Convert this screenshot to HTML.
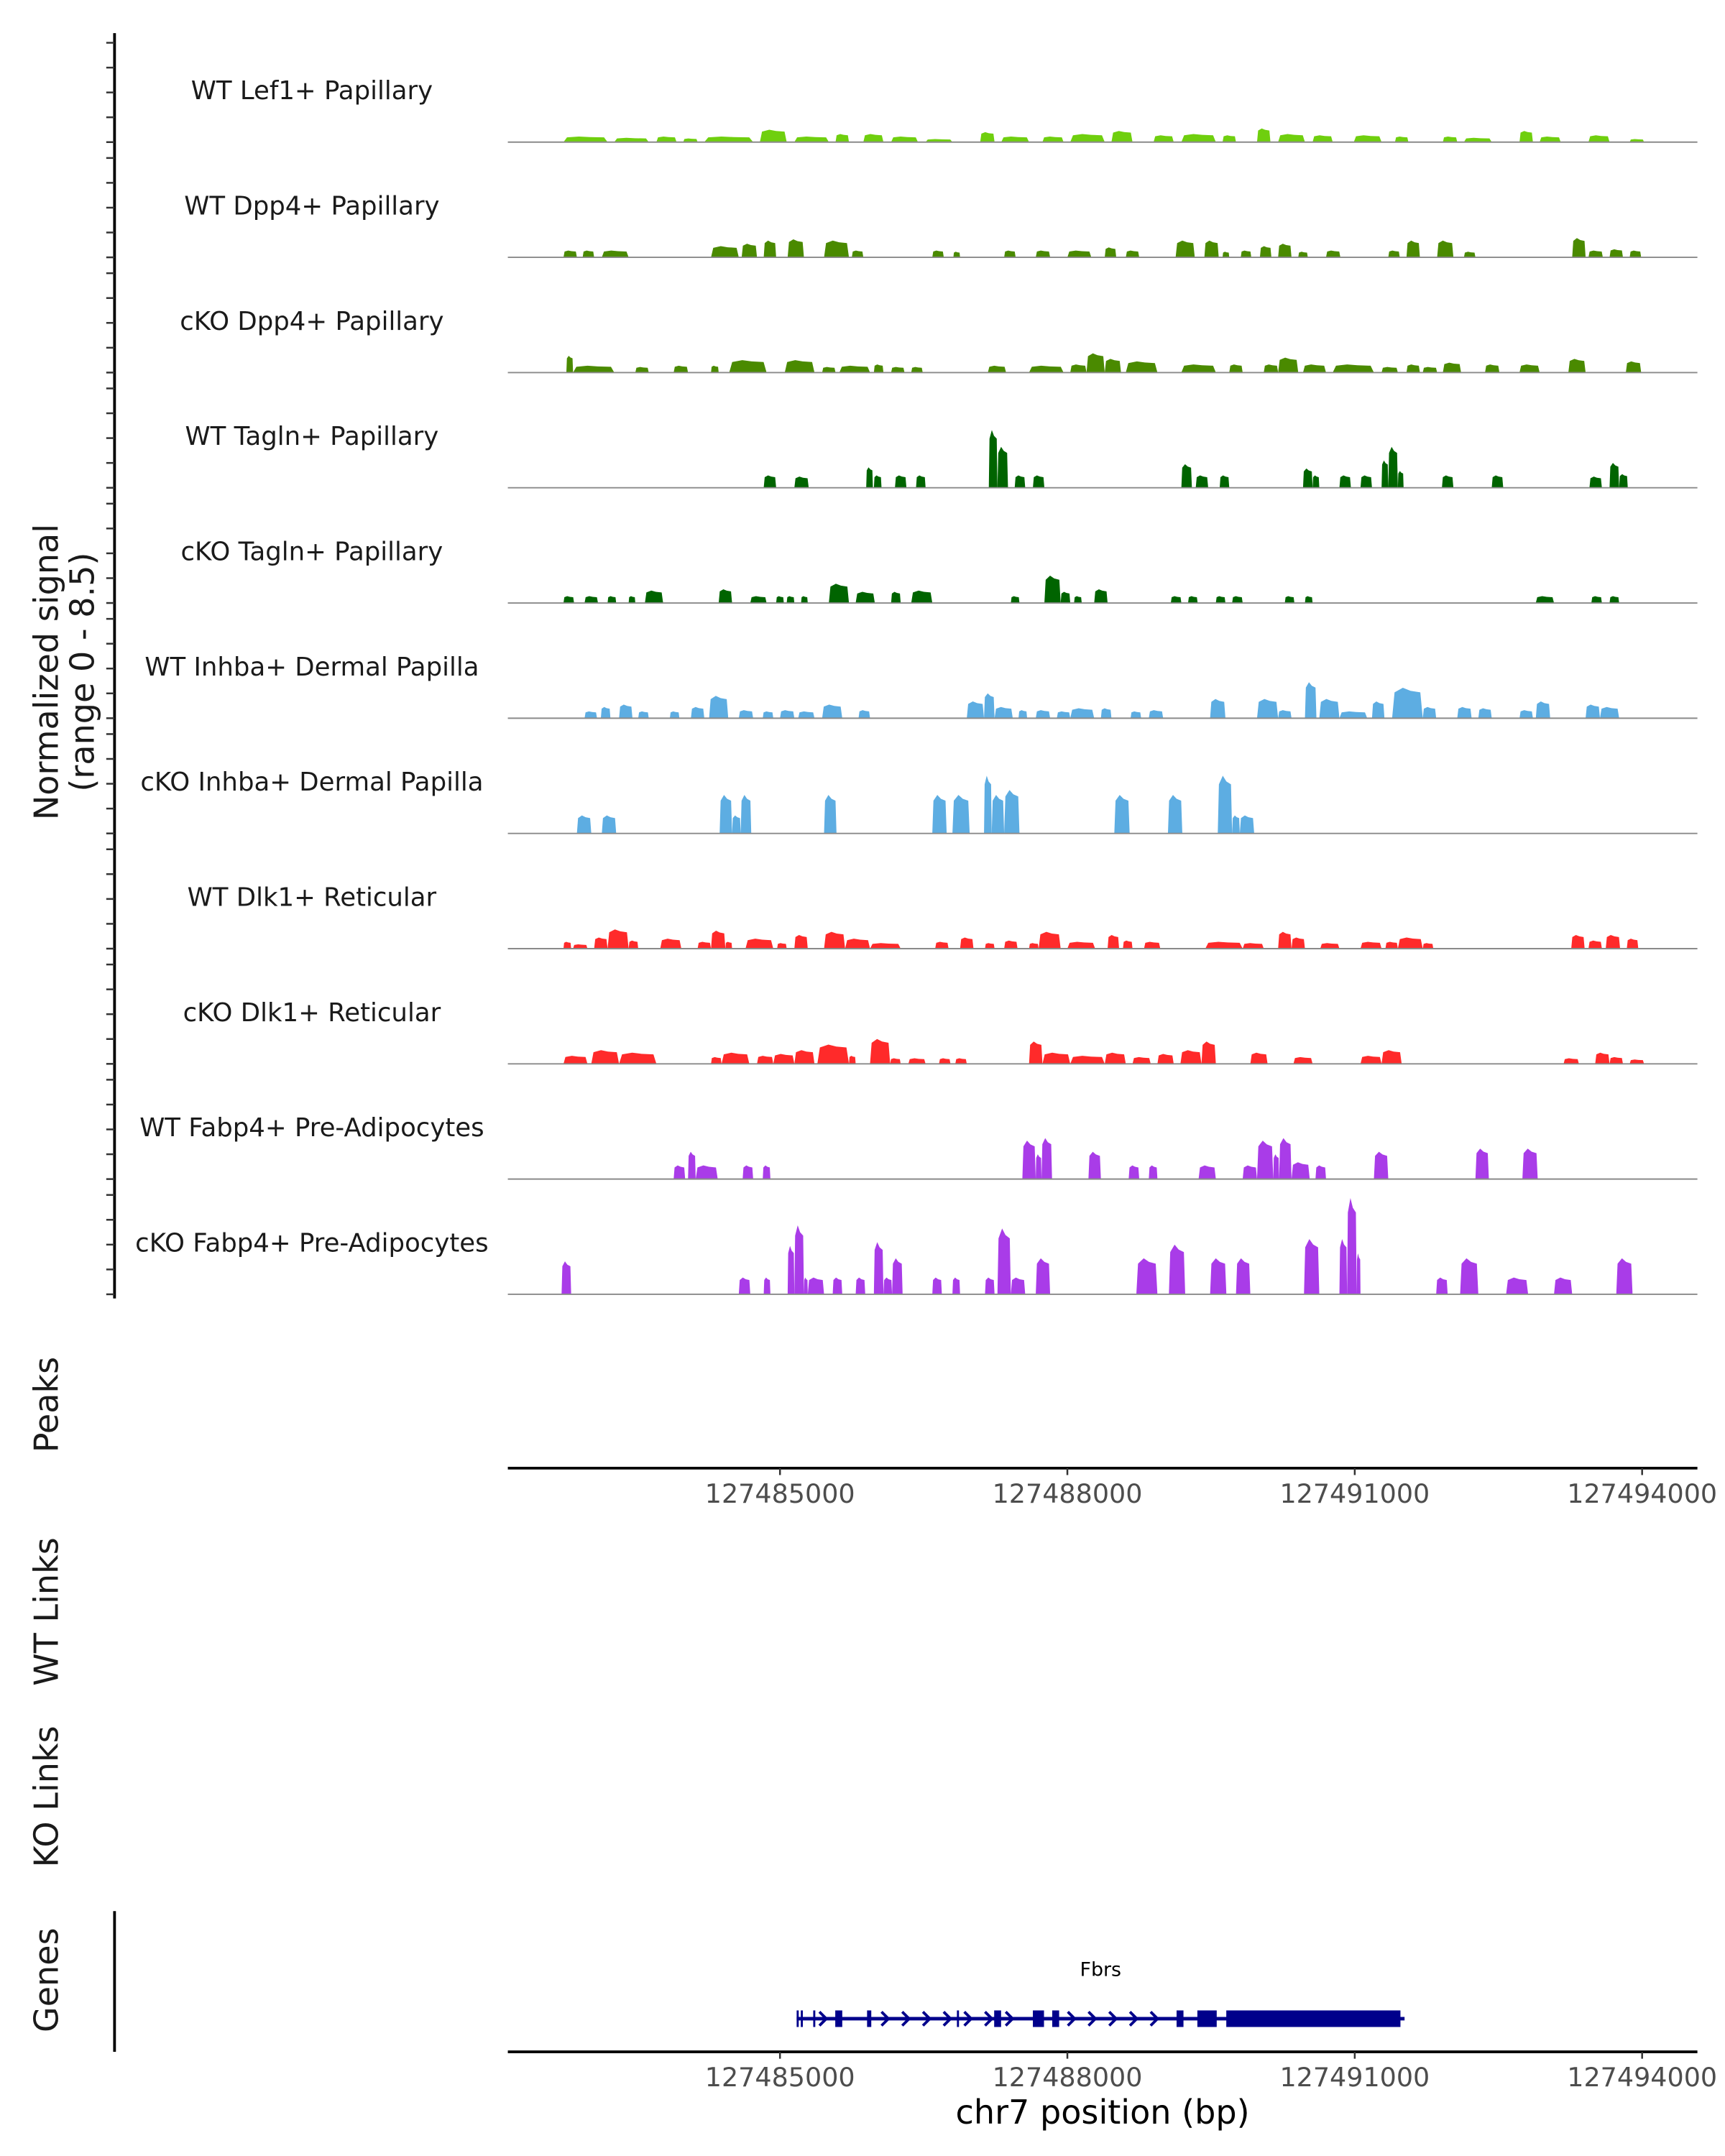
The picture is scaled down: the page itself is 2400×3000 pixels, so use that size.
<!DOCTYPE html>
<html><head><meta charset="utf-8"><style>
html,body{margin:0;padding:0;background:#fff}
svg{display:block;font-family:"DejaVu Sans","Liberation Sans",sans-serif}
</style></head><body>
<svg id="chart" xmlns="http://www.w3.org/2000/svg" width="2400" height="3000" viewBox="0 0 1250 1562.5">
<g id="tracks"></g>
<g id="axes"></g>
<g id="gene"></g>
</svg>
<script>
const ORIGIN = 127480000;
const trackNames = ["WT Lef1+ Papillary","WT Dpp4+ Papillary","cKO Dpp4+ Papillary","WT Tagln+ Papillary","cKO Tagln+ Papillary","WT Inhba+ Dermal Papilla","cKO Inhba+ Dermal Papilla","WT Dlk1+ Reticular","cKO Dlk1+ Reticular","WT Fabp4+ Pre-Adipocytes","cKO Fabp4+ Pre-Adipocytes"];
const trackColors = ["#6fcf0e","#4a8a00","#4a8a00","#006400","#006400","#5dade2","#5dade2","#ff2a2a","#ff2a2a","#a93ce8","#a93ce8"];
// peaks: [start kb offset, end kb offset, signal]
const lef1WT = [[2.74,3.20,0.45],[3.27,3.63,0.35],[3.71,3.92,0.45],[3.99,4.14,0.3],[4.21,4.72,0.45],[4.79,5.07,1.0],[5.15,5.51,0.45],[5.58,5.72,0.65],[5.87,6.08,0.65],[6.16,6.44,0.45],[6.52,6.80,0.25],[7.09,7.24,0.8],[7.31,7.60,0.45],[7.74,7.96,0.45],[8.03,8.39,0.65],[8.46,8.68,0.9],[8.90,9.11,0.55],[9.19,9.55,0.65],[9.62,9.76,0.55],[9.98,10.12,1.1],[10.20,10.48,0.65],[10.56,10.77,0.55],[10.99,11.28,0.55],[11.42,11.56,0.45],[11.92,12.07,0.45],[12.14,12.43,0.35],[12.72,12.86,0.9],[12.93,13.15,0.45],[13.44,13.66,0.55],[13.87,14.02,0.25]];
const dpp4WT = [[2.74,2.88,0.55],[2.94,3.06,0.55],[3.14,3.42,0.55],[4.28,4.57,0.9],[4.60,4.76,1.1],[4.83,4.96,1.35],[5.08,5.25,1.45],[5.46,5.72,1.35],[5.75,5.87,0.55],[6.59,6.71,0.55],[6.81,6.88,0.45],[7.34,7.46,0.55],[7.67,7.82,0.55],[8.00,8.25,0.55],[8.39,8.51,0.8],[8.61,8.75,0.55],[9.13,9.33,1.35],[9.43,9.58,1.35],[9.62,9.69,0.45],[9.81,9.92,0.55],[10.01,10.13,0.9],[10.20,10.34,1.1],[10.41,10.51,0.45],[10.70,10.85,0.55],[11.35,11.47,0.55],[11.54,11.68,1.35],[11.86,12.03,1.35],[12.14,12.26,0.45],[13.27,13.41,1.55],[13.44,13.59,0.55],[13.66,13.80,0.65],[13.87,13.99,0.55]];
const dpp4KO = [[2.77,2.84,1.35],[2.84,3.27,0.55],[3.49,3.63,0.45],[3.89,4.04,0.55],[4.28,4.36,0.55],[4.47,4.86,1.0],[5.05,5.36,1.0],[5.44,5.58,0.45],[5.62,5.94,0.55],[5.98,6.08,0.65],[6.16,6.30,0.45],[6.37,6.49,0.45],[7.17,7.36,0.55],[7.60,7.96,0.55],[8.03,8.20,0.65],[8.20,8.39,1.55],[8.39,8.56,1.1],[8.61,8.94,0.9],[9.19,9.55,0.65],[9.69,9.83,0.65],[10.05,10.20,0.65],[10.20,10.41,1.2],[10.46,10.70,0.65],[10.77,11.20,0.65],[11.28,11.45,0.45],[11.54,11.68,0.65],[11.71,11.86,0.45],[11.92,12.11,0.8],[12.36,12.51,0.65],[12.72,12.93,0.65],[13.23,13.41,1.1],[13.83,13.99,0.9]];
const taglnWT = [[4.83,4.96,1.0],[5.15,5.30,0.9],[5.90,5.97,1.65],[5.98,6.06,1.0],[6.20,6.32,1.0],[6.42,6.52,1.0],[7.18,7.27,4.65],[7.27,7.38,3.3],[7.45,7.56,1.0],[7.64,7.76,1.0],[9.19,9.30,1.9],[9.34,9.47,1.0],[9.59,9.69,1.0],[10.46,10.56,1.55],[10.56,10.63,1.0],[10.84,10.96,1.0],[11.06,11.18,1.0],[11.28,11.35,2.2],[11.35,11.45,3.3],[11.45,11.51,1.35],[11.91,12.03,1.0],[12.43,12.55,1.0],[13.45,13.58,0.9],[13.66,13.76,2.0],[13.76,13.85,1.1]];
const taglnKO = [[2.74,2.85,0.55],[2.96,3.10,0.55],[3.20,3.29,0.55],[3.42,3.49,0.55],[3.59,3.78,1.0],[4.36,4.50,1.1],[4.69,4.86,0.55],[4.96,5.04,0.55],[5.07,5.15,0.55],[5.22,5.29,0.55],[5.51,5.72,1.55],[5.79,5.99,0.9],[6.16,6.26,0.9],[6.37,6.59,1.0],[7.41,7.50,0.55],[7.76,7.93,2.2],[7.93,8.03,0.9],[8.07,8.15,0.55],[8.28,8.42,1.1],[9.08,9.19,0.55],[9.26,9.36,0.55],[9.55,9.65,0.55],[9.72,9.83,0.55],[10.27,10.37,0.55],[10.48,10.56,0.55],[12.89,13.08,0.55],[13.47,13.58,0.55],[13.66,13.76,0.55]];
const inhbaWT = [[2.96,3.09,0.55],[3.13,3.23,0.9],[3.32,3.46,1.1],[3.52,3.63,0.55],[3.85,3.95,0.55],[4.07,4.21,0.9],[4.26,4.46,1.8],[4.57,4.72,0.65],[4.82,4.93,0.55],[5.00,5.15,0.65],[5.19,5.36,0.55],[5.44,5.65,1.1],[5.82,5.94,0.65],[6.95,7.13,1.35],[7.13,7.24,2.0],[7.24,7.43,0.9],[7.49,7.58,0.65],[7.67,7.82,0.65],[7.89,8.03,0.55],[8.03,8.28,0.8],[8.35,8.46,0.8],[8.66,8.77,0.55],[8.85,9.00,0.65],[9.49,9.65,1.55],[9.98,10.20,1.55],[10.20,10.34,0.65],[10.48,10.60,2.9],[10.63,10.84,1.55],[10.84,11.13,0.55],[11.18,11.31,1.35],[11.39,11.71,2.45],[11.71,11.85,0.9],[12.07,12.22,0.9],[12.29,12.43,0.8],[12.72,12.86,0.65],[12.89,13.04,1.35],[13.41,13.56,1.1],[13.56,13.76,0.9]];
const inhbaKO = [[2.88,3.03,1.45],[3.14,3.29,1.45],[4.37,4.50,3.1],[4.50,4.59,1.45],[4.59,4.70,3.1],[5.46,5.59,3.1],[6.59,6.74,3.1],[6.80,6.98,3.1],[7.13,7.21,4.65],[7.21,7.34,3.1],[7.34,7.50,3.5],[8.49,8.65,3.1],[9.05,9.20,3.1],[9.57,9.72,4.65],[9.72,9.80,1.45],[9.80,9.95,1.45]];
const dlk1WT = [[2.74,2.82,0.55],[2.84,2.99,0.35],[3.06,3.20,0.9],[3.20,3.42,1.55],[3.42,3.52,0.65],[3.75,3.97,0.8],[4.14,4.28,0.55],[4.28,4.43,1.45],[4.43,4.50,0.55],[4.64,4.93,0.8],[4.97,5.07,0.45],[5.15,5.29,1.1],[5.46,5.68,1.35],[5.68,5.94,0.8],[5.94,6.26,0.45],[6.62,6.76,0.55],[6.88,7.02,0.9],[7.14,7.24,0.45],[7.34,7.48,0.65],[7.60,7.70,0.45],[7.70,7.93,1.35],[8.00,8.29,0.55],[8.42,8.54,1.1],[8.58,8.68,0.65],[8.80,8.97,0.55],[9.44,9.83,0.55],[9.83,10.05,0.45],[10.20,10.34,1.35],[10.34,10.48,0.9],[10.64,10.84,0.45],[11.06,11.28,0.55],[11.32,11.45,0.55],[11.45,11.71,0.9],[11.71,11.82,0.45],[13.26,13.40,1.1],[13.44,13.58,0.65],[13.62,13.77,1.1],[13.84,13.96,0.8]];
const dlk1KO = [[2.74,2.99,0.65],[3.03,3.32,1.1],[3.32,3.71,0.9],[4.28,4.39,0.55],[4.39,4.68,0.9],[4.76,4.93,0.65],[4.93,5.15,0.8],[5.15,5.36,1.1],[5.39,5.72,1.55],[5.72,5.79,0.65],[5.94,6.15,2.0],[6.15,6.26,0.45],[6.34,6.52,0.45],[6.66,6.78,0.45],[6.83,6.95,0.45],[7.60,7.74,1.8],[7.74,8.03,0.9],[8.03,8.39,0.65],[8.39,8.61,0.9],[8.68,8.87,0.55],[8.94,9.11,0.8],[9.18,9.40,1.1],[9.40,9.55,1.8],[9.91,10.09,0.9],[10.36,10.56,0.55],[11.06,11.28,0.65],[11.28,11.49,1.1],[13.18,13.34,0.45],[13.51,13.66,0.9],[13.66,13.80,0.55],[13.87,14.02,0.35]];
const fabp4WT = [[3.89,4.01,1.1],[4.04,4.12,2.2],[4.12,4.35,1.1],[4.61,4.72,1.1],[4.82,4.90,1.1],[7.53,7.67,3.1],[7.67,7.73,2.0],[7.73,7.84,3.3],[8.22,8.35,2.2],[8.64,8.75,1.1],[8.85,8.94,1.1],[9.37,9.55,1.1],[9.83,9.98,1.1],[9.98,10.15,3.1],[10.15,10.21,2.0],[10.21,10.34,3.3],[10.34,10.53,1.35],[10.59,10.70,1.1],[11.20,11.35,2.2],[12.26,12.40,2.45],[12.75,12.91,2.45]];
const fabp4KO = [[2.72,2.82,2.65],[4.57,4.69,1.35],[4.83,4.90,1.35],[5.08,5.15,3.9],[5.15,5.25,5.55],[5.25,5.29,1.35],[5.29,5.46,1.35],[5.55,5.65,1.35],[5.79,5.89,1.35],[5.98,6.08,4.2],[6.08,6.17,1.35],[6.17,6.28,2.9],[6.59,6.69,1.35],[6.80,6.88,1.35],[7.14,7.24,1.35],[7.27,7.41,5.3],[7.41,7.56,1.35],[7.67,7.82,2.9],[8.72,8.94,2.9],[9.06,9.23,4.0],[9.49,9.66,2.9],[9.76,9.91,2.9],[10.47,10.63,4.45],[10.84,10.92,4.45],[10.92,11.02,7.75],[11.02,11.06,3.3],[11.85,11.97,1.35],[12.10,12.29,2.9],[12.58,12.81,1.35],[13.08,13.27,1.35],[13.73,13.90,2.9]];
const trackData = [lef1WT,dpp4WT,dpp4KO,taglnWT,taglnKO,inhbaWT,inhbaKO,dlk1WT,dlk1KO,fabp4WT,fabp4KO];
const xTicks = [127485000,127488000,127491000,127494000];
const yTicks = [0,2,4,6,8];
const geneName = "Fbrs";
const geneStart = 127485174, geneEnd = 127491520;
const exonStarts = [127485174,127485217,127485347,127485577,127485909,127486847,127487236,127487640,127487842,127489140,127489357,127489659];
const exonEnds   = [127485190,127485235,127485365,127485650,127485953,127486862,127487308,127487756,127487914,127489212,127489559,127491477];

const NS="http://www.w3.org/2000/svg";
const X0=368,X1=1230, D0=127482159, D1=127494577;
function xs(bp){return X0+(bp-D0)/(D1-D0)*(X1-X0);}
function xk(kb){return xs(ORIGIN+kb*1000);}
const UNIT=9;
function ys(b,v){return b-v*UNIT;}
function mk(tag,attrs,parent){const e=document.createElementNS(NS,tag);for(const k in attrs)e.setAttribute(k,attrs[k]);parent.appendChild(e);return e;}
const gT=document.getElementById('tracks'), gA=document.getElementById('axes'), gG=document.getElementById('gene');

let ax=mk('line',{x1:83,y1:24,x2:83,y2:941,stroke:'#000','stroke-width':2},gA);


trackNames.forEach((name,i)=>{
  const b=103+i*83.5;
  yTicks.forEach(t=>{
    const tk=mk('line',{x1:77,x2:83,y1:ys(b,t),y2:ys(b,t),stroke:'#333','stroke-width':1.3},gA);
    
    
  });
  const lab=mk('text',{x:226,y:b-31,'text-anchor':'middle','font-size':18.5,fill:'#1a1a1a'},gT);
  lab.textContent=name;
  
  
  const g=mk('g',{},gT);
  
  
  trackData[i].forEach(p=>{
    const s=xk(p[0]), e=xk(p[1]), w=e-s, h=p[2];
    const pts=[[s,b],[s+0.08*w,ys(b,h*0.85)],[s+0.35*w,ys(b,h)],[s+0.6*w,ys(b,h*0.9)],[e-0.08*w,ys(b,h*0.85)],[e,b]];
    const pg=mk('polygon',{points:pts.map(q=>q[0].toFixed(2)+','+q[1].toFixed(2)).join(' '),fill:trackColors[i]},g);
    
    
  });
  const bl=mk('line',{x1:X0,x2:X1,y1:b,y2:b,stroke:'#8a8a8a','stroke-width':1},g);
  
  
});

function rotText(txt,x,y,size,name){
  const t=mk('text',{x:0,y:0,transform:`translate(${x},${y}) rotate(-90)`,'text-anchor':'middle','font-size':size,fill:'#1a1a1a'},gA);
  t.textContent=txt;
  
  
}
rotText('Normalized signal',42,487,24,'y-axis-title');
rotText('(range 0 - 8.5)',68,487,24,'y-axis-range');
rotText('Peaks',42,1018,24,'peaks-title');
rotText('WT Links',42,1168,24,'wt-links-title');
rotText('KO Links',42,1302,24,'ko-links-title');
rotText('Genes',42,1435,24,'genes-title');

function xAxis(y,name){
  const l=mk('line',{x1:X0,x2:X1,y1:y,y2:y,stroke:'#000','stroke-width':2},gA);
  
  
  xTicks.forEach(t=>{
    const tk=mk('line',{x1:xs(t),x2:xs(t),y1:y,y2:y+5,stroke:'#333','stroke-width':1.3},gA);
    
    
    const tl=mk('text',{x:xs(t),y:y+25,'text-anchor':'middle','font-size':19,fill:'#4d4d4d'},gA);
    tl.textContent=String(t);
    
    
  });
}
xAxis(1064,'peaks-x-axis');
xAxis(1487,'genes-x-axis');
const gl=mk('line',{x1:83,x2:83,y1:1385,y2:1487,stroke:'#000','stroke-width':2},gA);


const xt=mk('text',{x:799,y:1539,'text-anchor':'middle','font-size':24,fill:'#000'},gA);
xt.textContent='chr7 position (bp)';



const GY=1463, NAVY='#00008b';
const gn=mk('text',{x:(xs(geneStart)+xs(geneEnd))/2,y:1432,'text-anchor':'middle','font-size':14,fill:'#000'},gG);
gn.textContent=geneName;


const il=mk('line',{x1:xs(geneStart),x2:xs(geneEnd),y1:GY,y2:GY,stroke:NAVY,'stroke-width':2.5},gG);


for(let x=xs(geneStart)+4;x<xs(exonStarts[exonStarts.length-1]);x+=15){
  const inEx=exonStarts.some((s,k)=>x>xs(s)-3&&x<xs(exonEnds[k])+3);
  if(inEx) continue;
  const c=mk('polyline',{points:`${x-2.5},${GY-5} ${x+2.5},${GY} ${x-2.5},${GY+5}`,fill:'none',stroke:NAVY,'stroke-width':2},gG);
  
  
}
exonStarts.forEach((s,k)=>{
  const x1=xs(s), x2=Math.max(xs(exonEnds[k]),x1+1.5);
  const r=mk('rect',{x:x1,y:GY-6,width:x2-x1,height:12,fill:NAVY},gG);
  
  
});
</script>
</body></html>
